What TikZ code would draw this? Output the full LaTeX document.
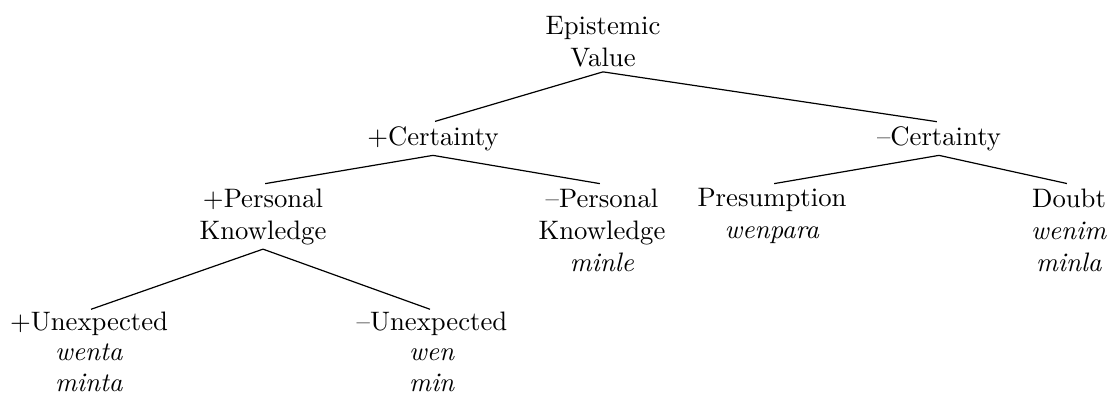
\documentclass[tikz,border=0pt]{standalone}
\begin{document}
\begin{tikzpicture}[x=0.3745pt,y=-0.3745pt,
  lbl/.style={align=center, anchor=north, inner xsep=0pt, inner ysep=1.5pt},
  leaflbl/.style={lbl, inner ysep=0.4pt, font=\fontsize{10}{11.5}\selectfont},
  branch/.style={line width=0.45pt, shorten >=0.8pt}]
\useasboundingbox (0,0) rectangle (1111,398);
\node[lbl] (root) at (603,12) {Epistemic\\Value};
\node[lbl] (pc) at (433,122) {+Certainty};
\node[lbl] (mc) at (939,122) {--Certainty};
\node[lbl] (pp) at (263,184) {+Personal\\Knowledge};
\node[lbl] (mp) at (602,184) {--Personal\\Knowledge\\\textit{minle}};
\node[lbl] (pr) at (772,184) {Presumption\\\textit{wenpara}};
\node[lbl] (db) at (1069,184) {Doubt\\\textit{wenim}\\\textit{minla}};
\node[leaflbl] (pu) at (89,310) {+Unexpected\\\textit{wenta}\\\textit{minta}};
\node[leaflbl] (mu) at (432,310) {--Unexpected\\\textit{wen}\\\textit{min}};
\draw[branch] (root.south) -- (pc.north);
\draw[branch] (root.south) -- (mc.north);
\draw[branch] (pc.south) -- (pp.north);
\draw[branch] (pc.south) -- (mp.north);
\draw[branch] (mc.south) -- (pr.north);
\draw[branch] (mc.south) -- (db.north);
\draw[branch] (pp.south) -- (pu.north);
\draw[branch] (pp.south) -- (mu.north);
\end{tikzpicture}
\end{document}
